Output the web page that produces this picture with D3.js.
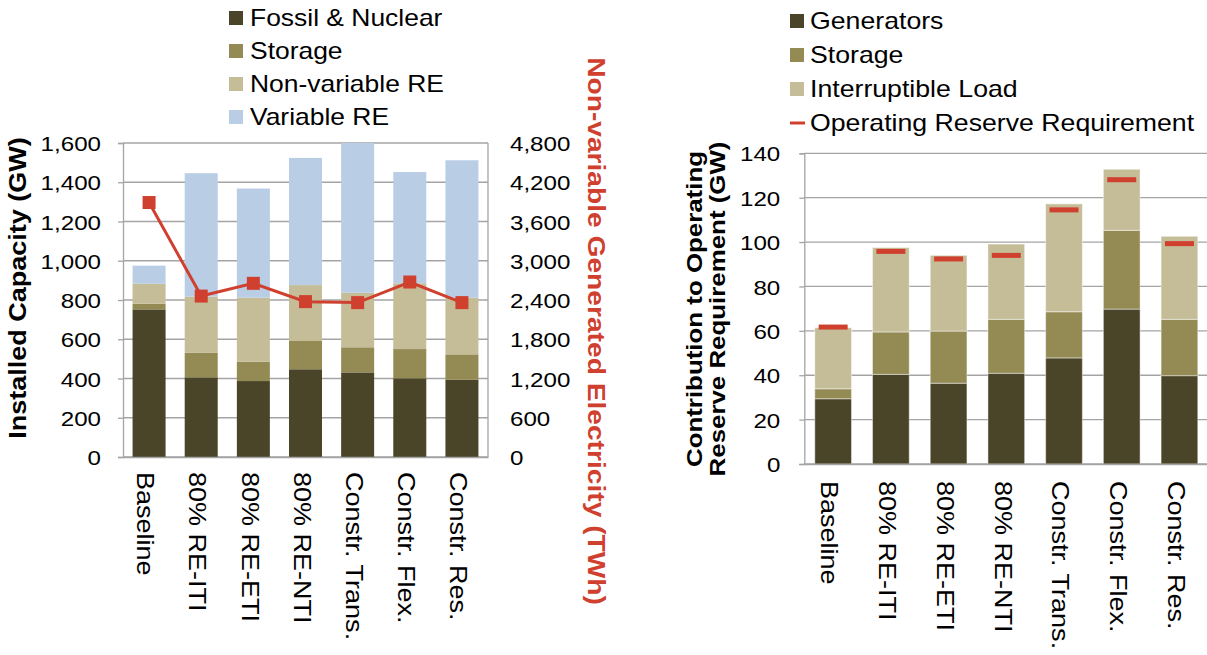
<!DOCTYPE html>
<html>
<head>
<meta charset="utf-8">
<script src="https://cdn.jsdelivr.net/npm/d3@7"></script>
<style>
  html, body { margin: 0; padding: 0; background: #ffffff; }
  svg { display: block; font-family: "Liberation Sans", Arial, sans-serif; }
</style>
</head>
<body>
<svg id="chart" width="1207" height="655"></svg>
<script>
// ---- Scenario data ----
const categories = ["Baseline", "80% RE-ITI", "80% RE-ETI", "80% RE-NTI",
                    "Constr. Trans.", "Constr. Flex.", "Constr. Res."];

// Installed capacity by resource type (GW), stacked
const fossilNuclear = [752, 406, 387, 447, 431, 401, 394];
const storageCap    = [29, 126, 99, 144, 128, 149, 129];
const nonVariableRE = [102, 285, 326, 285, 278, 335, 289];
const variableRE    = [92, 629, 556, 648, 763, 567, 700];

// Non-variable generated electricity (TWh), secondary axis
const generatedTWh = [3890, 2460, 2655, 2375, 2360, 2675, 2360];

// Contribution to operating reserve requirement (GW), stacked
const generatorsRes    = [29.4, 40.4, 36.4, 40.9, 47.8, 69.8, 39.8];
const storageRes       = [4.5, 19.1, 23.5, 24.3, 20.8, 35.5, 25.4];
const interruptibleRes = [27.5, 38.0, 34.1, 33.9, 48.6, 27.5, 37.4];
const reserveRequirement = [61.7, 95.8, 92.4, 94.0, 114.5, 128.1, 99.3];

// Axis ticks
const capacityTicks = [0, 200, 400, 600, 800, 1000, 1200, 1400, 1600];
const energyTicks   = [0, 600, 1200, 1800, 2400, 3000, 3600, 4200, 4800];
const reserveTicks  = [0, 20, 40, 60, 80, 100, 120, 140];

// Legend labels
const capacityLegend = ["Fossil & Nuclear", "Storage", "Non-variable RE", "Variable RE"];
const reserveLegend  = ["Generators", "Storage", "Interruptible Load", "Operating Reserve Requirement"];

// ---- Styling ----
const C_DARK = "#4a4529", C_MID = "#948a54", C_LIGHT = "#c4bd97", C_BLUE = "#b9cde5", C_RED = "#d0402f";
const GRID = "#a4a4a4";
const INK = "#000";
const WIDE = 1.15;           // horizontal glyph widening along the reading direction
const fmt = d3.format(",");

const svg = d3.select("#chart");

function gridAndFrame(g, box, y, ticks) {
  g.selectAll("line.grid").data(ticks).join("line")
    .attr("x1", box.left).attr("x2", box.right)
    .attr("y1", d => y(d)).attr("y2", d => y(d))
    .attr("stroke", GRID).attr("stroke-width", 1.3);
  g.append("line")
    .attr("x1", box.right).attr("x2", box.right)
    .attr("y1", box.top).attr("y2", box.bottom)
    .attr("stroke", GRID).attr("stroke-width", 1.3);
}

function styleLeftAxis(g, offset, size) {
  g.select(".domain").attr("stroke", GRID).attr("stroke-width", 1.3);
  g.selectAll(".tick line").attr("stroke", GRID).attr("stroke-width", 1.3);
  g.selectAll(".tick text")
    .attr("x", 0).attr("dy", "0.36em")
    .attr("transform", `translate(${offset},0) scale(${WIDE},1)`)
    .attr("text-anchor", "end")
    .attr("font-size", size).attr("fill", INK);
}

function styleCategoryAxis(g, gap, size) {
  g.select(".domain").attr("stroke", GRID).attr("stroke-width", 1.3);
  g.selectAll(".tick line").remove();
  g.selectAll(".tick text")
    .attr("y", 0).attr("x", gap / WIDE).attr("dy", "0.5em")
    .attr("transform", `rotate(90) scale(${WIDE},1)`)
    .attr("text-anchor", "start")
    .attr("font-size", size).attr("fill", INK);
}

function widenedText(g, x, y, rot, text, opts) {
  return g.append("text")
    .attr("transform", `translate(${x},${y}) rotate(${rot}) scale(${WIDE},1)`)
    .attr("text-anchor", opts.anchor || "middle")
    .attr("font-size", opts.size)
    .attr("font-weight", opts.weight || "normal")
    .attr("fill", opts.fill || INK)
    .text(text);
}

// =========================================================
// Left panel: installed capacity + generated electricity
// =========================================================
const L = { left: 123, right: 488, top: 143, bottom: 457 };
const gL = svg.append("g");

const xL = d3.scaleBand().domain(categories).range([L.left, L.right])
  .paddingInner(0.367).paddingOuter(0.1835);
const yL = d3.scaleLinear().domain([0, 1600]).range([L.bottom, L.top]);
const yE = d3.scaleLinear().domain([0, 4800]).range([L.bottom, L.top]);

gridAndFrame(gL, L, yL, capacityTicks);

const capRows = categories.map((c, i) => ({
  cat: c, fossil: fossilNuclear[i], storage: storageCap[i],
  nonvar: nonVariableRE[i], variable: variableRE[i]
}));
const capKeys = ["fossil", "storage", "nonvar", "variable"];
const capColors = [C_DARK, C_MID, C_LIGHT, C_BLUE];
const capStack = d3.stack().keys(capKeys)(capRows);

gL.selectAll("g.layer").data(capStack).join("g")
  .attr("fill", (d, i) => capColors[i])
  .selectAll("rect").data(d => d).join("rect")
    .attr("x", d => xL(d.data.cat))
    .attr("width", xL.bandwidth())
    .attr("y", d => yL(Math.min(d[1], 1600)))
    .attr("height", d => yL(d[0]) - yL(Math.min(d[1], 1600)));

gL.append("g").attr("transform", `translate(${L.left},0)`)
  .call(d3.axisLeft(yL).tickValues(capacityTicks).tickFormat(fmt).tickSize(5))
  .call(g => styleLeftAxis(g, -22, 21));

const axR = gL.append("g").attr("transform", `translate(${L.right},0)`)
  .call(d3.axisRight(yE).tickValues(energyTicks).tickFormat(fmt).tickSize(0));
axR.select(".domain").remove();
axR.selectAll(".tick text")
  .attr("x", 0).attr("dy", "0.36em")
  .attr("transform", `translate(22,0) scale(${WIDE},1)`)
  .attr("text-anchor", "start").attr("font-size", 21).attr("fill", INK);

gL.append("g").attr("transform", `translate(0,${L.bottom})`)
  .call(d3.axisBottom(xL).tickSize(0))
  .call(g => styleCategoryAxis(g, 15, 23.5));

// Generated electricity line with square markers
const linePts = categories.map((c, i) => ({ cat: c, v: generatedTWh[i] }));
gL.append("path").datum(linePts)
  .attr("fill", "none").attr("stroke", C_RED).attr("stroke-width", 3)
  .attr("d", d3.line().x(d => xL(d.cat) + xL.bandwidth() / 2).y(d => yE(d.v)));
gL.selectAll("rect.marker").data(linePts).join("rect")
  .attr("class", "marker")
  .attr("x", d => xL(d.cat) + xL.bandwidth() / 2 - 6.5)
  .attr("y", d => yE(d.v) - 6.5)
  .attr("width", 13).attr("height", 13)
  .attr("fill", C_RED);

// Axis titles
widenedText(gL, 26, 288, -90, "Installed Capacity (GW)", { size: 23.5, weight: "bold" });
widenedText(gL, 588, 331, 90, "Non-variable Generated Electricity (TWh)",
  { size: 24.5, weight: "bold", fill: C_RED });

// Legend
const legL = gL.append("g");
capacityLegend.forEach((name, i) => {
  const cy = 18 + i * 33;
  legL.append("rect").attr("x", 229).attr("y", cy - 7).attr("width", 14).attr("height", 14)
    .attr("fill", capColors[i]);
  widenedText(legL, 250, cy, 0, name, { size: 23, anchor: "start" }).attr("dy", "0.36em");
});

// =========================================================
// Right panel: operating reserve contributions
// =========================================================
const R = { left: 804.3, right: 1208.3, top: 153.3, bottom: 464 };
const gR = svg.append("g");

const xR = d3.scaleBand().domain(categories).range([R.left, R.right])
  .paddingInner(0.364).paddingOuter(0.182);
const yR = d3.scaleLinear().domain([0, 140]).range([R.bottom, R.top]);

gridAndFrame(gR, R, yR, reserveTicks);

const resRows = categories.map((c, i) => ({
  cat: c, gen: generatorsRes[i], sto: storageRes[i], intr: interruptibleRes[i]
}));
const resKeys = ["gen", "sto", "intr"];
const resColors = [C_DARK, C_MID, C_LIGHT];
const resStack = d3.stack().keys(resKeys)(resRows);

gR.selectAll("g.layer").data(resStack).join("g")
  .attr("fill", (d, i) => resColors[i])
  .selectAll("rect").data(d => d).join("rect")
    .attr("x", d => xR(d.data.cat))
    .attr("width", xR.bandwidth())
    .attr("y", d => yR(d[1]))
    .attr("height", d => yR(d[0]) - yR(d[1]))
    .attr("stroke", "rgba(255,255,255,0.45)").attr("stroke-width", 1);

// Requirement dashes
const dashW = xR.bandwidth() * 0.79;
gR.selectAll("rect.req").data(categories).join("rect")
  .attr("class", "req")
  .attr("x", (d) => xR(d) + (xR.bandwidth() - dashW) / 2)
  .attr("y", (d, i) => yR(reserveRequirement[i]) - 2.5)
  .attr("width", dashW).attr("height", 5)
  .attr("fill", C_RED);

gR.append("g").attr("transform", `translate(${R.left},0)`)
  .call(d3.axisLeft(yR).tickValues(reserveTicks).tickSize(5))
  .call(g => styleLeftAxis(g, -24, 21));

gR.append("g").attr("transform", `translate(0,${R.bottom})`)
  .call(d3.axisBottom(xR).tickSize(0))
  .call(g => styleCategoryAxis(g, 17, 23.5));

// Axis title (two lines)
widenedText(gR, 702, 309, -90, "Contribution to Operating", { size: 22.5, weight: "bold" });
widenedText(gR, 725, 309, -90, "Reserve Requirement (GW)", { size: 22.5, weight: "bold" });

// Legend
const legR = gR.append("g");
reserveLegend.forEach((name, i) => {
  const cy = 21 + i * 34;
  if (i < 3) {
    legR.append("rect").attr("x", 790).attr("y", cy - 7).attr("width", 14).attr("height", 14)
      .attr("fill", resColors[i]);
  } else {
    legR.append("line").attr("x1", 790).attr("x2", 805).attr("y1", cy).attr("y2", cy)
      .attr("stroke", C_RED).attr("stroke-width", 3);
  }
  widenedText(legR, 810, cy, 0, name, { size: 23.2, anchor: "start" }).attr("dy", "0.36em");
});
</script>
</body>
</html>
